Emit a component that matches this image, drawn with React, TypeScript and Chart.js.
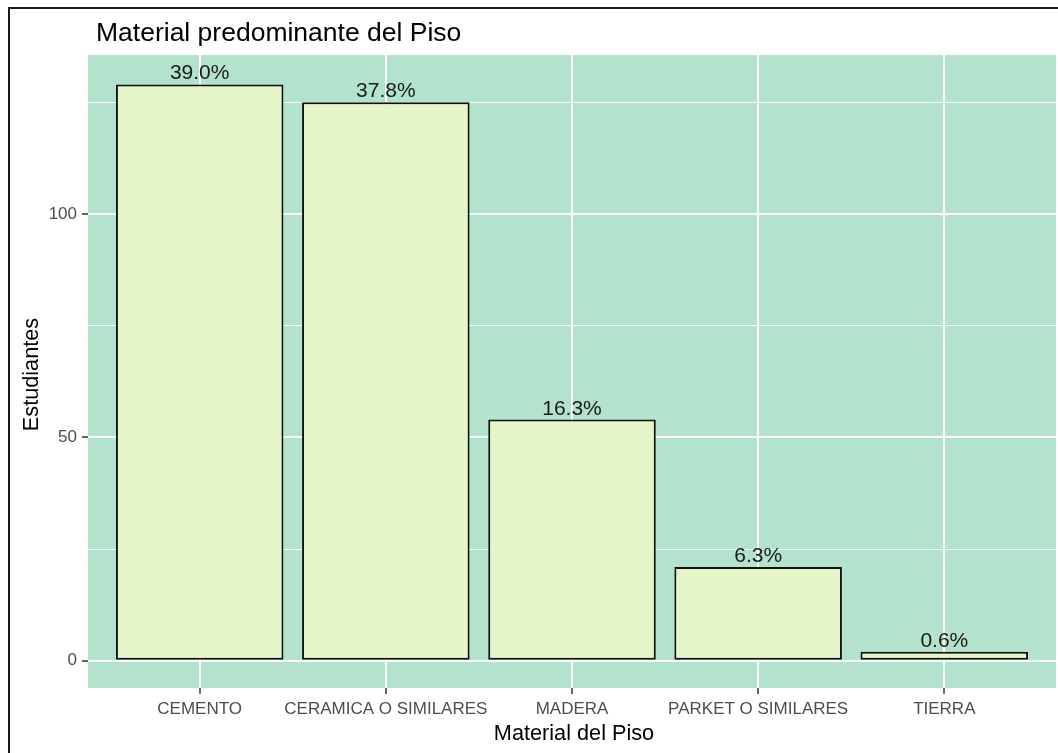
import React, { useEffect, useRef } from "react";
import { Chart, registerables } from "chart.js";

Chart.register(...registerables);

// ---- data ----
const categories = ["CEMENTO", "CERAMICA O SIMILARES", "MADERA", "PARKET O SIMILARES", "TIERRA"];
const counts = [129, 125, 54, 21, 2];
const percentLabels = ["39.0%", "37.8%", "16.3%", "6.3%", "0.6%"];
const xPositions = [1, 2, 3, 4, 5];
const yTickValues = [0, 25, 50, 75, 100, 125];
const yMajorTicks = [0, 50, 100];
const yMin = -6.1;
const yMax = 135.6;
const xMin = 0.4;
const xMax = 5.6;

const titleText = "Material predominante del Piso";
const xTitle = "Material del Piso";
const yTitle = "Estudiantes";

const FONT = '"Liberation Sans", Arial, sans-serif';
const PANEL_BG = "#b3e2cd";
const BAR_FILL = "#e6f5c9";

const decorPlugin = {
  id: "decor",
  beforeDraw(chart: any) {
    const { ctx, chartArea, width, height } = chart;
    ctx.save();
    ctx.fillStyle = "#ffffff";
    ctx.fillRect(0, 0, width, height);
    // outer frame
    ctx.fillStyle = "#1a1a1a";
    ctx.fillRect(8, 7, width - 8, 2);
    ctx.fillRect(8, 7, 2, height - 7);
    // panel
    ctx.fillStyle = PANEL_BG;
    ctx.fillRect(chartArea.left, chartArea.top, chartArea.right - chartArea.left, chartArea.bottom - chartArea.top);
    ctx.restore();
  },
  afterDatasetsDraw(chart: any) {
    const { ctx, chartArea } = chart;
    ctx.save();
    // value labels
    const meta = chart.getDatasetMeta(0);
    ctx.fillStyle = "#1a1a1a";
    ctx.font = `21px ${FONT}`;
    ctx.textAlign = "center";
    ctx.textBaseline = "alphabetic";
    meta.data.forEach((bar: any, i: number) => {
      ctx.fillText(percentLabels[i], bar.x, bar.y - 5);
    });
    // title
    ctx.fillStyle = "#000000";
    ctx.font = `26.5px ${FONT}`;
    ctx.textAlign = "left";
    ctx.fillText(titleText, 96, 41);
    // x title
    ctx.font = `21.7px ${FONT}`;
    ctx.textAlign = "center";
    ctx.textBaseline = "middle";
    ctx.fillText(xTitle, (chartArea.left + chartArea.right) / 2 + 2, 734);
    // y title
    ctx.translate(32, (chartArea.top + chartArea.bottom) / 2 + 3);
    ctx.rotate(-Math.PI / 2);
    ctx.fillText(yTitle, 0, 0);
    ctx.restore();
  },
};

export default function App() {
  const ref = useRef<HTMLCanvasElement | null>(null);

  useEffect(() => {
    if (!ref.current) return;
    const chart = new Chart(ref.current, {
      type: "bar",
      data: {
        datasets: [
          {
            data: counts.map((v, i) => ({ x: xPositions[i], y: v })),
            backgroundColor: BAR_FILL,
            borderColor: "#111111",
            borderWidth: 2,
            borderSkipped: false,
            categoryPercentage: 0.9,
            barPercentage: 1,
          },
        ],
      },
      options: {
        responsive: false,
        animation: false,
        layout: { padding: { top: 55, right: 2, bottom: 0, left: 0 } },
        plugins: {
          legend: { display: false },
          tooltip: { enabled: false },
          title: { display: false },
        },
        scales: {
          x: {
            type: "linear",
            min: xMin,
            max: xMax,
            offset: false,
            afterBuildTicks: (scale: any) => {
              scale.ticks = xPositions.map((v) => ({ value: v }));
            },
            afterFit: (scale: any) => {
              scale.height = 65;
            },
            ticks: {
              autoSkip: false,
              maxRotation: 0,
              minRotation: 0,
              padding: 5,
              color: "#4d4d4d",
              font: { family: FONT, size: 17 },
              callback: (value: any) => {
                const idx = xPositions.indexOf(Number(value));
                return idx >= 0 ? categories[idx] : "";
              },
            },
            grid: {
              offset: false,
              color: "#ffffff",
              lineWidth: 2,
              drawTicks: true,
              tickLength: 6,
              tickColor: "#333333",
              tickWidth: 1.5,
            },
            border: { display: false },
          },
          y: {
            type: "linear",
            min: yMin,
            max: yMax,
            afterBuildTicks: (scale: any) => {
              scale.ticks = yTickValues.map((v) => ({ value: v }));
            },
            afterFit: (scale: any) => {
              scale.width = 88;
            },
            ticks: {
              padding: 5,
              color: "#4d4d4d",
              font: { family: FONT, size: 17 },
              callback: (value: any) => (yMajorTicks.includes(Number(value)) ? String(value) : ""),
            },
            grid: {
              color: "#ffffff",
              lineWidth: (ctx: any) => (yMajorTicks.includes(ctx.tick?.value) ? 2 : 1),
              drawTicks: true,
              tickLength: 6,
              tickColor: (ctx: any) => (yMajorTicks.includes(ctx.tick?.value) ? "#333333" : "rgba(0,0,0,0)"),
              tickWidth: 1.5,
            },
            border: { display: false },
          },
        },
      },
      plugins: [decorPlugin],
    });
    return () => chart.destroy();
  }, []);

  return (
    <div style={{ position: "absolute", left: 0, top: 0, width: 1058, height: 753 }}>
      <canvas ref={ref} width={1058} height={753} style={{ display: "block" }} />
    </div>
  );
}
